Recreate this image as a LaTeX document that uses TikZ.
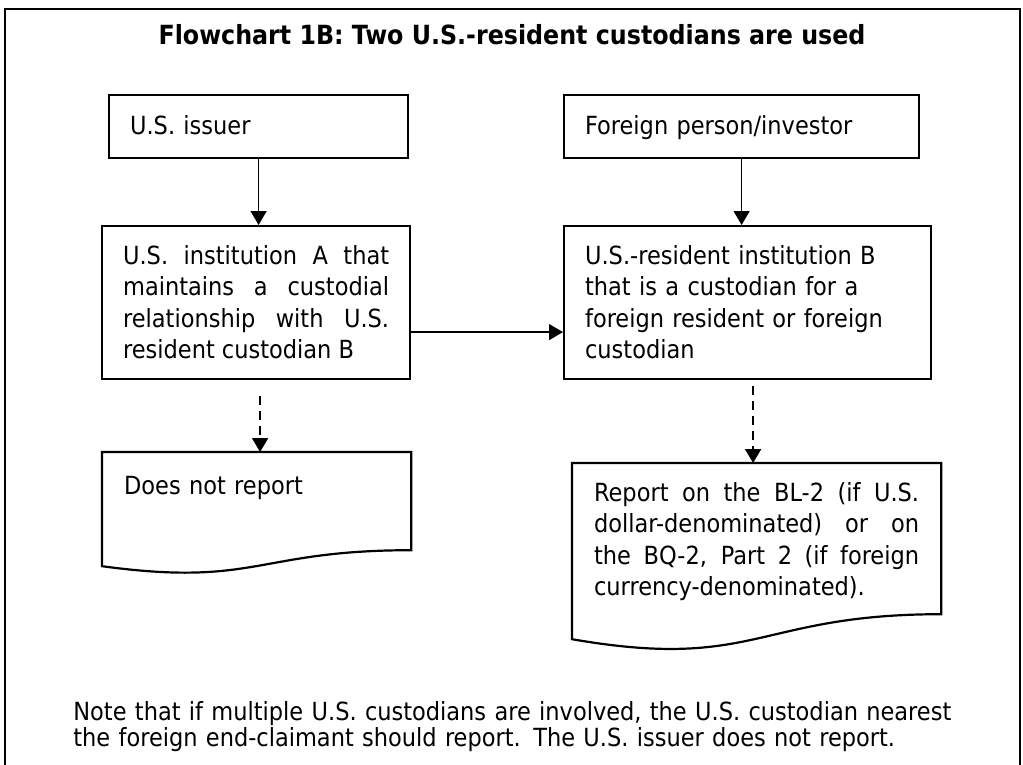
\documentclass[tikz,border=0pt]{standalone}
\usepackage{fontspec}
\setmainfont{DejaVu Sans Condensed}
\usetikzlibrary{arrows.meta,calc}

\begin{document}
\begin{tikzpicture}[x=0.5pt, y=-0.5pt,
		box/.style={draw, line width=1.1pt, anchor=north west, inner xsep=10.5pt, inner ysep=0pt, align=left, font=\fontsize{12.5}{15.75}\selectfont},
		doc/.style={box, draw=none},
		flow/.style={line width=0.7pt, -{Triangle[width=8pt, length=7pt]}},
		maybe/.style={flow, line width=1pt, dash pattern=on 4.5pt off 3pt}]
			\useasboundingbox (0,0) rectangle (1023,765);
			\draw[line width=1.1pt] (5,775) -- (5,9) -- (1020,9) -- (1020,775);
			\node[font=\fontsize{13.2}{15}\selectfont\bfseries, anchor=base, inner sep=0pt] (title) at (512,45) {Flowchart 1B: Two U.S.-resident custodians are used};
			\node[box, text width=128.5pt, text height=19.5pt, text depth=12pt] (issuer) at (108,94) {U.S. issuer};
			\node[box, text width=156.5pt, text height=19.5pt, text depth=12pt] (investor) at (563,94) {Foreign person/investor};
			\node[box, align=justify, text width=133pt, text height=19pt, text depth=57.5pt] (institutionA) at (101,225) {\rightskip=8pt U.S. institution A that\linebreak maintains a custodial\linebreak relationship with U.S.\linebreak resident custodian B};
			\node[box, text width=162.5pt, text height=19pt, text depth=57.5pt] (custodianB) at (563,225) {U.S.-resident institution B\\that is a custodian for a\\foreign resident or foreign\\custodian};
			\node[doc, text width=132.5pt, text height=20.5pt, text depth=27.5pt] (noreport) at (102,452) {Does not report};
			\node[doc, align=justify, text width=162.5pt, text height=18.5pt, text depth=56pt] (blreport) at (572,463) {\rightskip=6.5pt Report on the BL-2 (if U.S.\linebreak dollar-denominated) or on\linebreak the BQ-2, Part 2 (if foreign\linebreak currency-denominated).};
			\draw[line width=1.1pt] (noreport.north west) -- (noreport.north east) -- (noreport.south east) .. controls (noreport.south) and ($(noreport.south)+(0,37)$) .. ($(noreport.south west)+(0,16)$) -- cycle;
			\draw[line width=1.1pt] (blreport.north west) -- (blreport.north east) -- (blreport.south east) .. controls (blreport.south) and ($(blreport.south)+(0,57)$) .. ($(blreport.south west)+(0,25)$) -- cycle;
			\draw[flow] (issuer.south) -- (issuer.south |- institutionA.north);
			\draw[flow] (investor.south) -- (investor.south |- custodianB.north);
			\draw[flow] ([yshift=-14.75pt]institutionA.east) -- ([yshift=-14.75pt]institutionA.east -| custodianB.west);
			\draw[maybe, shorten <=8pt] ([xshift=2pt]institutionA.south) -- ([xshift=2pt]institutionA.south |- noreport.north);
			\draw[maybe, shorten <=3pt] ([xshift=2.75pt]custodianB.south) -- ([xshift=2.75pt]custodianB.south |- blreport.north);
			\node[anchor=base west, text width=490pt, align=left, inner sep=0pt, font=\fontsize{12.5}{13}\selectfont] (note) at (73,720) {Note that if multiple U.S. custodians are involved, the U.S. custodian nearest\\the foreign end-claimant should report. The U.S. issuer does not report.};
		\end{tikzpicture}
\end{document}
